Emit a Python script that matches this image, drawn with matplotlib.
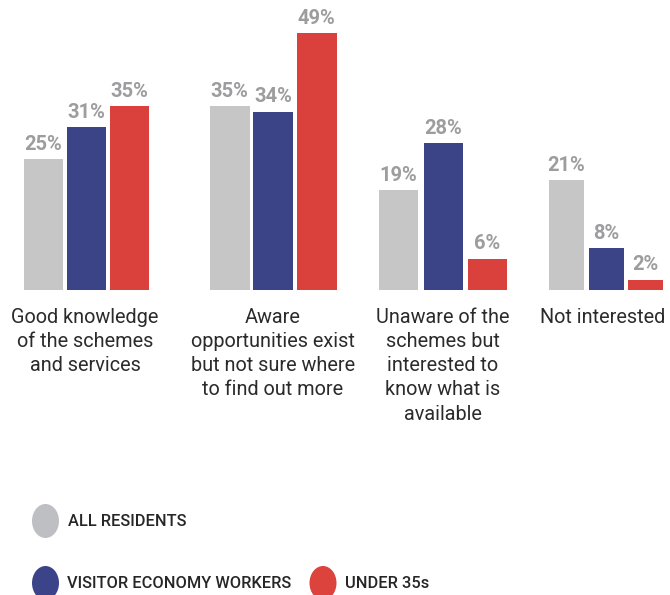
import matplotlib
matplotlib.use("Agg")
import matplotlib.pyplot as plt
from matplotlib.patches import Ellipse

categories = [
    "Good knowledge\nof the schemes\nand services",
    "Aware\nopportunities exist\nbut not sure where\nto find out more",
    "Unaware of the\nschemes but\ninterested to\nknow what is\navailable",
    "Not interested",
]
series_names = ["ALL RESIDENTS", "VISITOR ECONOMY WORKERS", "UNDER 35s"]
all_residents = [25, 35, 19, 21]
visitor_workers = [31, 34, 28, 8]
under_35s = [35, 49, 6, 2]

colors = ["#c6c6c6", "#3b4486", "#da413c"]
legend_colors = ["#bebfc3", "#3b4488", "#dc433c"]

W, H = 670, 595
fig = plt.figure(figsize=(W / 100, H / 100), dpi=100)

# Bar area: baseline sits 290 px below the top of the figure
base_px = 290
px_per_pct = 5.245
ax = fig.add_axes([0, (H - base_px) / H, 1, base_px / H])
ax.set_xlim(0, W)
ax.set_ylim(0, base_px / px_per_pct)
ax.axis("off")

centers = [86, 273, 443, 606]
bar_w = [39, 40, 39, 35]
step = [43, 43.5, 44.5, 39.5]

for si, vals in enumerate([all_residents, visitor_workers, under_35s]):
    for gi, v in enumerate(vals):
        x = centers[gi] + (si - 1) * step[gi]
        ax.bar(x, v, width=bar_w[gi], color=colors[si], linewidth=0)
        ax.text(x, v + 1.0, f"{v}%", ha="center", va="bottom",
                fontsize=14.5, fontweight="bold", color="#9d9d9f",
                family="Roboto")

# Category labels below the bars
label_centers = [85, 273, 443, 603]
for cx, lab in zip(label_centers, categories):
    fig.text(cx / W, 1 - 307.5 / H, lab, ha="center", va="top",
             fontsize=14.3, color="#2b2b2b", family="Roboto",
             linespacing=1.35)

# Legend with round markers
legend_items = [(45.5, 521, 68), (45.5, 583, 67), (323, 583, 345)]
for (cx, cy, tx), name, col in zip(legend_items, series_names, legend_colors):
    e = Ellipse((cx / W, 1 - cy / H), 27 / W, 34 / H,
                transform=fig.transFigure, color=col, linewidth=0)
    fig.patches.append(e)
    fig.text(tx / W, 1 - cy / H, name, ha="left", va="center",
             fontsize=11.8, fontweight="medium", color="#262626",
             family="Roboto")

fig.savefig("out.png", dpi=100)
